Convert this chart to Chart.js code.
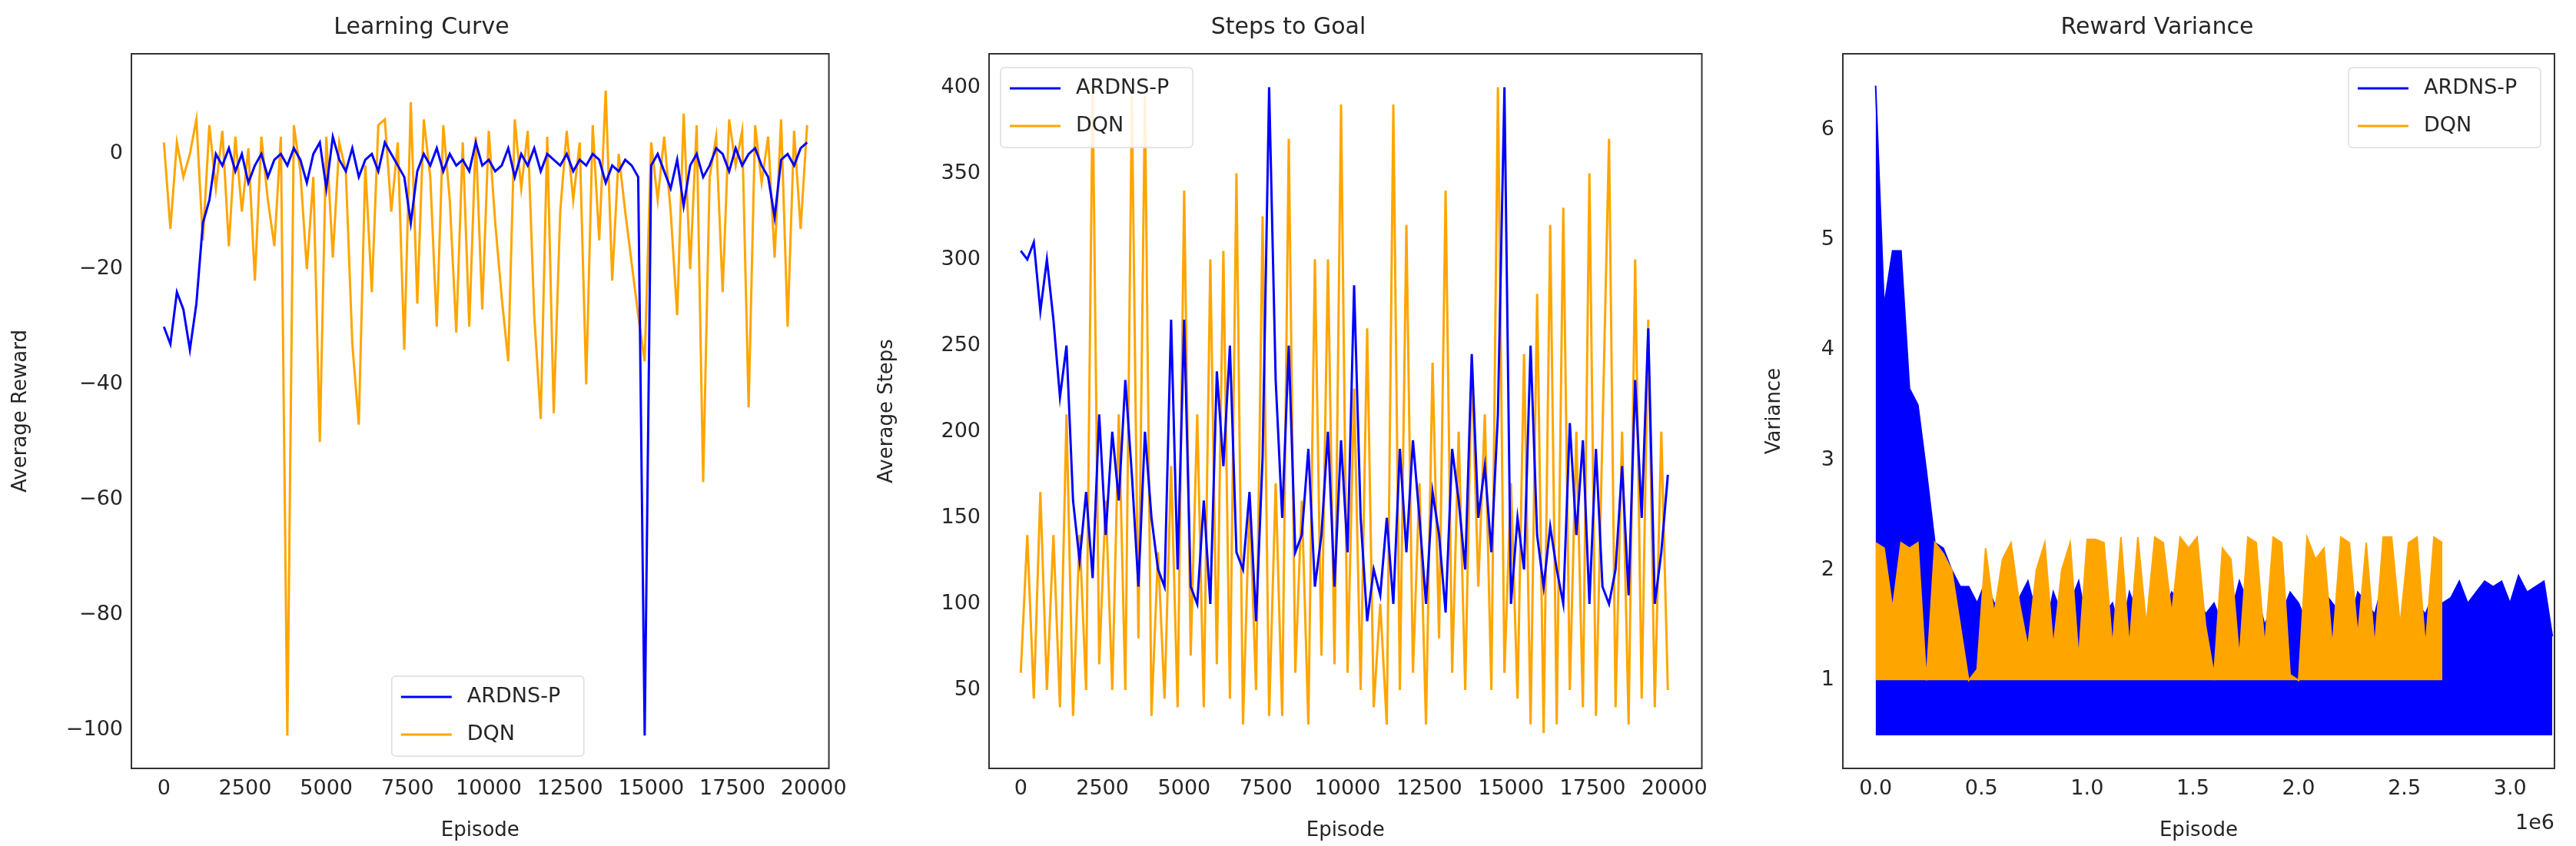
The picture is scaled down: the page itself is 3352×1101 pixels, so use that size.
<!DOCTYPE html>
<html>
<head>
<meta charset="utf-8">
<script src="https://cdn.jsdelivr.net/npm/chart.js@4.4.1/dist/chart.umd.min.js"></script>
<style>
  body { margin: 0; background: #fff; }
  .panel { position: absolute; top: 0; height: 1101px; }
</style>
</head>
<body>
<div class="panel" style="left:0;width:1105px"><canvas id="c1"></canvas></div>
<div class="panel" style="left:1135px;width:1090px"><canvas id="c2"></canvas></div>
<div class="panel" style="left:2290px;width:1062px"><canvas id="c3"></canvas></div>
<script>
// episodes are sampled every 200 for the first two panels
var episodeStep = 200;

var rewardArdns = [-30,-33,-24,-27,-34,-26,-12,-8,0,-2,1,-3,0,-5,-2,0,-4,-1,0,-2,1,-1,-5,0,2,-6,3,-1,-3,1,
  -4,-1,0,-3,2,0,-2,-4,-12,-3,0,-2,1,-3,0,-2,-1,-3,2,-2,-1,-3,-2,1,-4,0,-2,1,-3,0,
  -1,-2,0,-3,-1,-2,0,-1,-5,-2,-3,-1,-2,-4,-101,-2,0,-3,-6,-1,-9,-2,0,-4,-2,1,0,-3,1,-2,
  0,1,-2,-4,-11,-1,0,-2,1,2];
var rewardDqn = [2,-13,2,-4,0,6,-15,5,-6,4,-16,3,-10,1,-22,3,-8,-16,3,-101,5,-3,-20,-4,-50,3,-18,2,-3,-33,
  -47,-2,-24,5,6,-10,2,-34,9,-26,6,-4,-30,5,-8,-31,2,-30,3,-27,4,-12,-25,-36,6,-6,4,-28,-46,3,
  -45,-10,4,-8,2,-40,5,-15,11,-22,0,-10,-19,-28,-36,2,-8,3,-10,-28,7,-20,5,-57,-4,3,-24,6,-2,4,
  -44,5,-5,3,-18,6,-30,4,-13,5];

var stepsArdns = [305,300,310,270,300,265,220,250,160,125,165,115,210,140,200,160,230,175,110,200,
  150,120,110,265,120,265,110,100,160,100,235,180,250,130,120,165,90,185,400,230,
  150,250,130,140,190,110,140,200,110,195,130,285,150,90,120,105,150,100,190,130,
  195,150,100,165,140,95,190,160,120,245,150,180,130,210,400,100,150,120,250,140,
  110,145,120,100,205,140,195,100,190,110,100,120,180,105,230,150,260,100,130,175];
var stepsDqn = [60,140,45,165,50,140,40,210,35,140,50,400,65,160,50,210,50,395,80,395,
  35,130,45,180,40,340,70,210,40,300,65,305,45,350,30,160,50,325,35,170,
  35,370,60,160,30,300,70,300,65,390,60,225,50,260,40,100,30,390,50,320,
  60,170,30,240,80,340,60,200,50,240,110,210,50,400,60,170,45,245,30,280,
  25,320,30,330,50,200,40,350,35,200,370,40,200,30,300,45,265,40,200,50];

// variance: upper envelope of each dense trace, in millions of episodes
var varStep = 0.04;
var varianceArdns = [6.4,4.4,4.9,4.9,3.65,3.5,2.9,2.25,2.2,2.0,1.85,1.85,1.7,1.9,1.7,1.7,1.5,1.75,1.9,1.6,
  1.4,1.8,1.6,1.7,1.9,1.5,1.8,1.6,1.7,1.4,1.8,1.6,1.5,1.7,1.6,1.8,1.7,1.5,1.8,1.6,
  1.7,1.5,1.6,1.9,1.7,1.8,1.5,1.7,1.6,1.8,1.7,1.5,1.6,1.8,1.7,1.6,1.5,1.8,1.7,1.6,
  1.9,1.7,1.5,1.8,1.7,1.6,1.8,1.7,1.75,1.9,1.7,1.8,1.9,1.85,1.9,1.7,1.95,1.8,1.85,1.9,1.4];
var varianceDqn = [2.25,2.2,1.65,2.25,2.2,2.25,1.0,2.25,2.15,2.0,1.5,1.0,1.1,2.2,1.6,2.1,2.25,1.7,1.3,2.0,
  2.25,1.3,2.0,2.25,1.2,2.28,2.28,2.25,1.3,2.3,1.3,2.3,1.5,2.3,2.25,1.6,2.3,2.2,2.3,1.5,
  1.05,2.2,2.1,1.2,2.3,2.25,1.3,2.3,2.25,1.05,1.0,2.3,2.1,2.2,1.3,2.3,2.25,1.4,2.25,1.3,
  2.3,2.3,1.5,2.25,2.3,1.3,2.3,2.25];

var rewardTicks = [-100,-80,-60,-40,-20,0];
var stepsTicks = [50,100,150,200,250,300,350,400];
var varTicks = [1,2,3,4,5,6];
var episodeTicks = [0,2500,5000,7500,10000,12500,15000,17500,20000];
var varEpisodeTicks = [0,0.5,1.0,1.5,2.0,2.5,3.0];

var BLUE = '#0000ff', ORANGE = '#ffa500', TEXT = '#262626';
var FONT = 'DejaVu Sans';

function pts(values, step) {
  return values.map(function (v, i) { return { x: i * step, y: v }; });
}

var boxPlugin = {
  id: 'box',
  afterDraw: function (chart) {
    var a = chart.chartArea, c = chart.ctx, o = chart.options.plugins.box || {};
    c.save();
    c.strokeStyle = '#333';
    c.lineWidth = 2;
    c.strokeRect(a.left, a.top, a.right - a.left, a.bottom - a.top);
    // legend box inside the plot
    var w = 250, h = 104, x, y;
    if (o.legend === 'lower') { x = (a.left + a.right) / 2 - w / 2 + 10; y = a.bottom - 16 - h; }
    else if (o.legend === 'left') { x = a.left + 15; y = a.top + 18; }
    else { x = a.right - 18 - w; y = a.top + 18; }
    c.fillStyle = 'rgba(255,255,255,0.85)';
    c.strokeStyle = '#dddddd';
    c.lineWidth = 1.5;
    c.beginPath();
    c.roundRect(x, y, w, h, 5);
    c.fill();
    c.stroke();
    c.font = '27px ' + FONT;
    c.textBaseline = 'middle';
    chart.data.datasets.forEach(function (ds, i) {
      var ly = y + 27 + i * 49;
      c.strokeStyle = ds.borderColor;
      c.lineWidth = 3;
      c.beginPath();
      c.moveTo(x + 12, ly);
      c.lineTo(x + 78, ly);
      c.stroke();
      c.fillStyle = TEXT;
      c.fillText(ds.label, x + 98, ly);
    });
    if (o.offset) {
      c.textAlign = 'right';
      c.textBaseline = 'top';
      c.fillText(o.offset, a.right, a.bottom + 58);
    }
    c.restore();
  }
};

function makeChart(id, datasets, cfg) {
  var tickFont = { family: FONT, size: 27 };
  new Chart(document.getElementById(id), {
    type: 'line',
    data: { datasets: datasets },
    plugins: [boxPlugin],
    options: {
      responsive: true,
      maintainAspectRatio: false,
      animation: false,
      layout: { padding: { right: cfg.padRight, left: cfg.padLeft || 0 } },
      elements: { point: { radius: 0 }, line: { borderWidth: 3, tension: 0 } },
      plugins: {
        legend: { display: false },
        tooltip: { enabled: false },
        title: { display: true, text: cfg.title, color: TEXT,
                 font: { family: FONT, size: 30, weight: 'normal' },
                 padding: { top: 18, bottom: 16 } },
        box: { legend: cfg.legend, offset: cfg.offset }
      },
      scales: {
        x: {
          type: 'linear', min: cfg.xMin, max: cfg.xMax,
          grid: { display: false, drawTicks: true, tickLength: 8, tickColor: '#333' },
          border: { color: '#333', width: 2 },
          afterBuildTicks: function (ax) { ax.ticks = cfg.xTicks.map(function (v) { return { value: v }; }); },
          afterFit: function (ax) { ax.height = 101; },
          ticks: { color: TEXT, font: tickFont, maxRotation: 0, autoSkip: false,
                   callback: cfg.xFmt || function (v) { return v; } },
          title: { display: true, text: 'Episode', color: TEXT, font: { family: FONT, size: 26 }, padding: { top: 0 } }
        },
        y: {
          min: cfg.yMin, max: cfg.yMax,
          grid: { display: false, drawTicks: true, tickLength: 8, tickColor: '#333' },
          border: { color: '#333', width: 2 },
          afterBuildTicks: function (ax) { ax.ticks = cfg.yTicks.map(function (v) { return { value: v }; }); },
          afterFit: function (ax) { ax.width = cfg.yWidth; },
          ticks: { color: TEXT, font: tickFont, autoSkip: false,
                   callback: function (v) { return String(v).replace('-', '\u2212'); } },
          title: { display: true, text: cfg.yTitle, color: TEXT, font: { family: FONT, size: 26 } }
        }
      }
    }
  });
}

makeChart('c1', [
  { label: 'ARDNS-P', data: pts(rewardArdns, episodeStep), borderColor: BLUE, backgroundColor: BLUE },
  { label: 'DQN', data: pts(rewardDqn, episodeStep), borderColor: ORANGE, backgroundColor: ORANGE }
], { title: 'Learning Curve', yTitle: 'Average Reward', xMin: -1000, xMax: 20470, yMin: -106.7, yMax: 17.4,
     xTicks: episodeTicks, yTicks: rewardTicks, yWidth: 163, padLeft: 8, padRight: 16, legend: 'lower' });

makeChart('c2', [
  { label: 'ARDNS-P', data: pts(stepsArdns, episodeStep), borderColor: BLUE, backgroundColor: BLUE },
  { label: 'DQN', data: pts(stepsDqn, episodeStep), borderColor: ORANGE, backgroundColor: ORANGE }
], { title: 'Steps to Goal', yTitle: 'Average Steps', xMin: -970, xMax: 20840, yMin: 4.5, yMax: 419.4,
     xTicks: episodeTicks, yTicks: stepsTicks, yWidth: 152, padRight: 7, legend: 'left' });

makeChart('c3', [
  { label: 'ARDNS-P', data: pts(varianceArdns, varStep), borderColor: BLUE, backgroundColor: BLUE,
    fill: { value: 0.5 }, borderWidth: 2, order: 2 },
  { label: 'DQN', data: pts(varianceDqn, varStep), borderColor: ORANGE, backgroundColor: ORANGE,
    fill: { value: 1 }, borderWidth: 2, order: 1 }
], { title: 'Reward Variance', yTitle: 'Variance', xMin: -0.155, xMax: 3.21, yMin: 0.2, yMax: 6.69,
     xTicks: varEpisodeTicks, yTicks: varTicks, yWidth: 108, padRight: 28, legend: 'right', offset: '1e6',
     xFmt: function (v) { return v.toFixed(1); } });
</script>
</body>
</html>
